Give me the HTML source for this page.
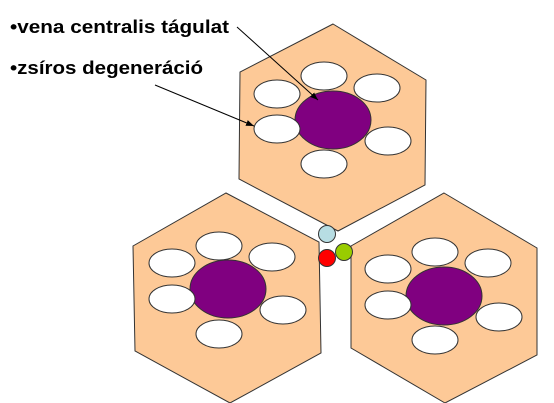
<!DOCTYPE html>
<html><head><meta charset="utf-8"><style>
html,body{margin:0;padding:0;background:#fff;width:554px;height:403px;overflow:hidden}
svg{display:block}
text{font-family:"Liberation Sans",sans-serif;font-weight:bold;font-size:18px;fill:#000}
</style></head><body>
<svg width="554" height="403" viewBox="0 0 554 403">
<defs><marker id="ah" markerWidth="8" markerHeight="6" refX="8" refY="3" orient="auto"><path d="M0,0 L8,3 L0,6 Z" fill="#000"/></marker></defs>
<g stroke="#333" stroke-width="1">
<polygon points="333,24 426,80 425,185 338,231 239,179 240,72" fill="#fdc997"/>
<polygon points="226,193 319,242 321,353 230,403 135,351 133,246" fill="#fdc997"/>
<polygon points="444,193 537,248 537,355 445,403 351,348 351,246" fill="#fdc997"/>
<g fill="#fff">
<ellipse cx="324" cy="76" rx="23" ry="14"/><ellipse cx="277" cy="94" rx="23" ry="14"/><ellipse cx="377" cy="88" rx="23" ry="14"/>
<ellipse cx="388" cy="141" rx="23" ry="14"/><ellipse cx="324" cy="164" rx="23" ry="14"/></g>
<ellipse cx="333" cy="120" rx="38" ry="29" fill="#800080"/>
<ellipse cx="277" cy="129" rx="23" ry="14" fill="#fff"/>
<g fill="#fff">
<ellipse cx="219" cy="246" rx="23" ry="14"/><ellipse cx="172" cy="263" rx="23" ry="14"/><ellipse cx="272" cy="257" rx="23" ry="14"/>
<ellipse cx="283" cy="310" rx="23" ry="14"/><ellipse cx="219" cy="334" rx="23" ry="14"/></g>
<ellipse cx="228" cy="289" rx="38" ry="29" fill="#800080"/>
<ellipse cx="172" cy="299" rx="23" ry="14" fill="#fff"/>
<g fill="#fff">
<ellipse cx="435" cy="252" rx="23" ry="14"/><ellipse cx="388" cy="269" rx="23" ry="14"/><ellipse cx="488" cy="263" rx="23" ry="14"/>
<ellipse cx="499" cy="317" rx="23" ry="14"/><ellipse cx="435" cy="340" rx="23" ry="14"/></g>
<ellipse cx="444" cy="296" rx="38" ry="29" fill="#800080"/>
<ellipse cx="388" cy="305" rx="23" ry="14" fill="#fff"/>
<circle cx="327" cy="234" r="8.5" fill="#b7dde3"/>
<circle cx="327" cy="258" r="8.5" fill="#f00"/>
<circle cx="344" cy="252" r="8.5" fill="#99cc00"/>
</g>
<text x="10" y="33" textLength="219" lengthAdjust="spacingAndGlyphs">•vena centralis tágulat</text>
<text x="10" y="74" textLength="193" lengthAdjust="spacingAndGlyphs">•zsíros degeneráció</text>
<line x1="237" y1="27" x2="318" y2="100" stroke="#000" stroke-width="1" marker-end="url(#ah)"/>
<line x1="155" y1="85" x2="254" y2="126" stroke="#000" stroke-width="1" marker-end="url(#ah)"/>
</svg>
</body></html>
